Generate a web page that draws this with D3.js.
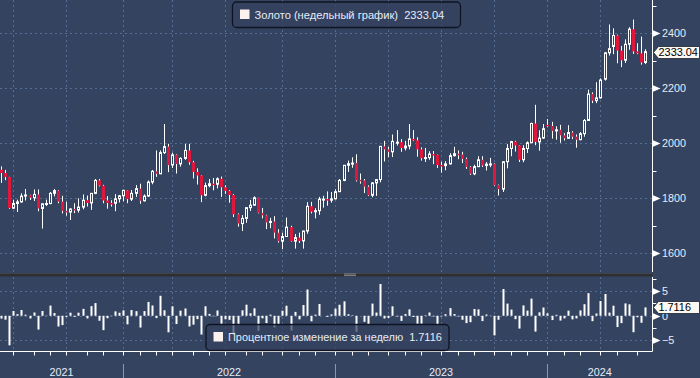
<!DOCTYPE html>
<html>
<head>
<meta charset="utf-8">
<script src="https://cdn.jsdelivr.net/npm/d3@7"></script>
<style>
  html, body { margin: 0; padding: 0; background: #344360; }
  svg { display: block; font-family: "Liberation Sans", Arial, sans-serif; }
</style>
</head>
<body>
<svg id="chart" width="700" height="378"></svg>
<script>
// weekly gold candles, one per week (week ending Friday)
const firstWeek = new Date(2021, 5, 4);
const lastWeek = new Date(2024, 5, 14);
const weeks = d3.timeFriday.range(firstWeek, d3.timeDay.offset(lastWeek, 1));
const prevClose = 1903; // close of the week before the first candle

const open = [
  1904,1892,1877,1764,1781,1787,1808,1812,1802,1814,1763,1780,1781,1818,1828,1788,1754,1750,1761,1757,1768,1793,1783,1818,1865,1846,1792,1783,1782,1798,1809,
  1829,1797,1818,1835,1791,1808,1859,1898,1889,1966,1988,1921,1958,1925,1945,1974,1931,1896,1883,1811,1846,1853,1851,1871,1840,1827,1812,1742,1708,1727,1766,1775,1802,1747,1738,1712,1716,1675,1644,1661,1695,1644,1657,1645,1681,1771,1751,1755,1797,1797,1793,1798,
  1824,1865,1920,1926,1928,1867,1865,1842,1811,1856,1868,1989,1978,1969,2002,2004,1983,1990,2016,2011,1978,1946,1948,1961,1958,1921,1919,1925,1955,1962,1959,1943,1914,1889,1915,1940,1919,1924,1925,1848,1833,1933,1981,2006,1992,1940,1981,2002,2072,2005,2019,2067,
  2063,2045,2049,2029,2018,2039,2024,2013,2035,2083,2179,2155,2165,2233,2329,2352,2392,2337,2302,2360,2415,2334,2327,2294
];
const high = [
  1916,1903,1878,1795,1795,1818,1834,1813,1832,1832,1780,1795,1823,1834,1830,1809,1787,1764,1782,1800,1814,1810,1818,1870,1870,1849,1808,1793,1815,1812,1831,
  1830,1830,1848,1853,1814,1865,1903,1974,1974,2070,1998,1966,1960,1949,1998,1998,1936,1909,1884,1857,1870,1874,1876,1879,1847,1830,1815,1745,1739,1767,1794,1807,1802,1765,1740,1729,1735,1688,1675,1730,1700,1670,1675,1682,1786,1787,1764,1805,1809,1825,1823,1833,
  1870,1921,1937,1949,1960,1890,1870,1847,1858,1870,1990,2009,1987,2032,2048,2015,2009,2070,2048,2022,1985,1983,1971,1972,1959,1933,1935,1964,1987,1974,1969,1948,1917,1922,1953,1953,1932,1947,1927,1850,1933,1997,2009,2009,1993,1993,2007,2075,2140,2047,2070,2088,
  2078,2062,2067,2037,2066,2044,2032,2041,2088,2195,2185,2222,2236,2331,2432,2418,2395,2354,2378,2422,2450,2364,2388,2342
];
const low = [
  1856,1866,1761,1761,1750,1784,1792,1794,1790,1753,1690,1772,1778,1807,1782,1745,1737,1721,1746,1748,1760,1770,1758,1815,1843,1782,1762,1770,1753,1785,1789,
  1782,1790,1805,1780,1788,1806,1851,1878,1888,1961,1895,1910,1890,1915,1940,1922,1872,1850,1786,1807,1840,1829,1836,1805,1816,1784,1732,1697,1681,1711,1754,1773,1745,1727,1688,1691,1654,1639,1615,1660,1642,1617,1638,1617,1671,1745,1727,1740,1766,1773,1784,1796,
  1823,1862,1896,1911,1861,1853,1819,1808,1804,1809,1858,1934,1949,1950,1992,1969,1974,1978,2008,1951,1937,1932,1940,1924,1910,1893,1902,1923,1952,1942,1928,1907,1885,1884,1914,1914,1901,1913,1846,1810,1823,1909,1953,1970,1932,1931,1965,2001,1993,1973,2016,2058,
  2017,2013,2002,2010,2017,2015,1984,2011,2024,2083,2146,2146,2163,2228,2319,2324,2291,2277,2292,2340,2325,2324,2286,2288
];
const close = [
  1892,1877,1764,1781,1787,1808,1812,1802,1814,1763,1780,1781,1818,1828,1788,1754,1750,1761,1757,1768,1793,1783,1818,1865,1846,1792,1783,1782,1798,1809,1829,
  1797,1818,1835,1791,1808,1859,1898,1889,1966,1988,1921,1958,1925,1945,1974,1931,1896,1883,1811,1846,1853,1851,1871,1840,1827,1812,1742,1708,1727,1766,1775,1802,1747,1738,1712,1716,1675,1644,1661,1695,1644,1657,1645,1681,1771,1751,1755,1797,1797,1793,1798,1824,
  1865,1920,1926,1928,1865,1865,1842,1811,1856,1868,1989,1978,1969,2007,2004,1983,1990,2016,2011,1978,1946,1948,1961,1958,1921,1919,1925,1955,1962,1959,1943,1914,1889,1915,1940,1919,1924,1925,1848,1833,1933,1981,2006,1992,1940,1981,2002,2072,2005,2019,2053,2063,
  2045,2049,2029,2018,2039,2024,2013,2035,2083,2179,2155,2165,2230,2329,2344,2392,2337,2302,2360,2415,2334,2327,2293.78,2333.04
];

const priceTicks = [1600, 1800, 2000, 2200, 2400];
const priceMinor = [1700, 1900, 2100, 2300, 2500];
const pctTicks = [-5, 0, 5];
const pctMinor = [-2.5, 2.5, 7.5];
const years = [2021, 2022, 2023, 2024];

const mainName = "Золото (недельный график)";
const subName = "Процентное изменение за неделю";

const bg = "#344360", gridCol = "#566d93", txt = "#e6ecf6", red = "#e0173d";

const data = weeks.map((d, i) => ({
  date: d, o: open[i], h: high[i], l: low[i], c: close[i],
  pct: (close[i] / (i ? close[i - 1] : prevClose) - 1) * 100
}));

const svg = d3.select("#chart");
const axisX = 652.5;

const x = d3.scaleTime().domain([firstWeek, lastWeek]).range([1, 645.3]);
const y = d3.scaleLinear().domain([1532, 2521]).range([272, 0]);
const y2 = d3.scaleLinear().domain([-7.18, 7.9]).range([351, 277]);

// scale a text's font so that it spans the given width
function fit(sel, w) {
  const fs = +sel.attr("font-size");
  const len = sel.node().getComputedTextLength();
  sel.attr("font-size", (fs * w / len).toFixed(2));
  return +sel.attr("font-size");
}

// month boundaries sit on the last bar before the month starts
const edge = m => Math.round(x(d3.timeFriday.floor(d3.timeDay.offset(m, -1))));
const months = d3.timeMonth.range(new Date(2021, 6, 1), new Date(2024, 6, 1));
const quarters = months.filter(m => m.getMonth() % 3 === 0);

svg.append("rect").attr("width", 700).attr("height", 378).attr("fill", bg);

// grid
const grid = svg.append("g").attr("stroke", gridCol).attr("stroke-dasharray", "2,3").attr("stroke-width", 1);
grid.selectAll(".hg").data(priceTicks).join("line")
  .attr("x1", 0).attr("x2", axisX)
  .attr("y1", d => Math.round(y(d)) + 0.5).attr("y2", d => Math.round(y(d)) + 0.5);
grid.selectAll(".hg2").data(pctTicks).join("line")
  .attr("x1", 0).attr("x2", axisX)
  .attr("y1", d => Math.round(y2(d)) + 0.5).attr("y2", d => Math.round(y2(d)) + 0.5);
quarters.forEach(m => {
  const xx = edge(m) + 0.5;
  grid.append("line").attr("x1", xx).attr("x2", xx).attr("y1", 0).attr("y2", 272);
  grid.append("line").attr("x1", xx).attr("x2", xx).attr("y1", 277).attr("y2", 351);
});

// candles
const cg = svg.append("g");
data.forEach(d => {
  const cx = Math.round(x(d.date)) + 0.5;
  cg.append("line").attr("x1", cx).attr("x2", cx)
    .attr("y1", y(d.h)).attr("y2", y(d.l)).attr("stroke", "#fff").attr("stroke-width", 1);
  const top = y(Math.max(d.o, d.c)), bot = y(Math.min(d.o, d.c));
  if (d.c >= d.o) {
    cg.append("rect").attr("x", cx - 1).attr("width", 2)
      .attr("y", top).attr("height", Math.max(bot - top, 1))
      .attr("fill", bg).attr("stroke", "#fff").attr("stroke-width", 1);
  } else {
    cg.append("rect").attr("x", cx - 1.5).attr("width", 3)
      .attr("y", top).attr("height", Math.max(bot - top, 1.5))
      .attr("fill", red);
  }
});

// weekly % change bars
svg.append("g").selectAll("rect").data(data).join("rect")
  .attr("x", d => Math.round(x(d.date)) - 0.5)
  .attr("width", 2)
  .attr("y", d => Math.min(y2(0), y2(d.pct)))
  .attr("height", d => Math.abs(y2(d.pct) - y2(0)))
  .attr("fill", "#fff");

// panel separator
svg.append("rect").attr("x", 0).attr("y", 273).attr("width", axisX).attr("height", 3.5).attr("fill", "#2e2f33");
svg.append("rect").attr("x", 0).attr("y", 273).attr("width", axisX).attr("height", 0.8).attr("fill", "#4a4c52");
[274, 275.6].forEach(yy => svg.append("line").attr("x1", 344).attr("x2", 356)
  .attr("y1", yy).attr("y2", yy).attr("stroke", "#9a9ca2").attr("stroke-width", 0.8));

// right axes
const ax = svg.append("g").attr("stroke", "#fff").attr("stroke-width", 1);
ax.append("line").attr("x1", axisX).attr("x2", axisX).attr("y1", 0).attr("y2", 272);
ax.append("line").attr("x1", axisX).attr("x2", axisX).attr("y1", 277).attr("y2", 351.5);

function minorTicks(vals, sc) {
  vals.forEach(v => {
    const yy = Math.round(sc(v)) + 0.5;
    ax.append("line").attr("x1", axisX).attr("x2", axisX + 4).attr("y1", yy).attr("y2", yy);
  });
}
minorTicks(priceMinor, y);
minorTicks(pctMinor, y2);

// label size taken from the width of "2400" on the price axis
const probe = svg.append("text").attr("font-size", 12).text("2400");
const axisFs = fit(probe, 24);
probe.remove();

function majorTicks(vals, sc, fmt) {
  vals.forEach(v => {
    const yy = Math.round(sc(v)) + 0.5;
    svg.append("path").attr("d", `M${axisX},${yy - 3.5}L${axisX + 8},${yy}L${axisX},${yy + 3.5}Z`).attr("fill", "#fff");
    svg.append("text").attr("x", 662).attr("y", yy).attr("dy", "0.36em")
      .attr("fill", txt).attr("font-size", axisFs).text(fmt(v));
  });
}
majorTicks(priceTicks, y, d => d);
majorTicks(pctTicks, y2, d => d < 0 ? "\u2212" + Math.abs(d) : d);

// last value flags
function flag(yy, label, w) {
  yy = Math.round(yy) + 0.5;
  svg.append("path")
    .attr("d", `M${axisX + 1},${yy}L${axisX + 6},${yy - 6}H699.5V${yy + 6}H${axisX + 6}Z`)
    .attr("fill", "#fdf8f2").attr("stroke", "#1b2233").attr("stroke-width", 0.8);
  const t = svg.append("text").attr("x", 658.5).attr("y", yy).attr("dy", "0.36em")
    .attr("fill", "#000").attr("font-size", 12).text(label);
  fit(t, w);
}
const last = data[data.length - 1];
flag(y(last.c), d3.format(".2f")(last.c), 39.5);
flag(y2(last.pct), d3.format(".4f")(last.pct), 32.5);

// bottom axis
svg.append("line").attr("x1", 0).attr("x2", axisX).attr("y1", 351.5).attr("y2", 351.5).attr("stroke", "#fff");
svg.append("g").selectAll("line").data(months).join("line")
  .attr("x1", m => edge(m) + 0.5).attr("x2", m => edge(m) + 0.5)
  .attr("y1", 351.5).attr("y2", 355.5).attr("stroke", "#fff");

const yearProbe = svg.append("text").attr("font-size", 12).text("2021");
const yearFs = fit(yearProbe, 24);
yearProbe.remove();

const yearEdge = yr => yr === 2021 ? 0 : edge(new Date(yr, 0, 1));
years.forEach(yr => {
  const a = Math.max(0, yearEdge(yr));
  const b = yr === 2024 ? axisX : yearEdge(yr + 1);
  if (yr > 2021) {
    svg.append("line").attr("x1", a + 0.5).attr("x2", a + 0.5).attr("y1", 364).attr("y2", 378)
      .attr("stroke", "#8b97ad");
  }
  svg.append("text").attr("x", (a + b) / 2).attr("y", 376).attr("text-anchor", "middle")
    .attr("fill", txt).attr("font-size", yearFs).text(yr);
});

// legends
function legend(x0, y0, w, h, label, textW) {
  const g = svg.append("g");
  g.append("rect").attr("x", x0 + 0.5).attr("y", y0 + 0.5).attr("width", w).attr("height", h).attr("rx", 4)
    .attr("fill", bg).attr("fill-opacity", 0.72).attr("stroke", "#0e1422").attr("stroke-width", 1.3);
  g.append("rect").attr("x", x0 + 8).attr("y", y0 + 8).attr("width", 9.5).attr("height", 9.5).attr("fill", "#fdf3ee");
  const t = g.append("text").attr("x", x0 + 22.5).attr("y", y0 + h / 2 + 0.5).attr("dy", "0.36em")
    .attr("fill", txt).attr("font-size", 11.5).attr("xml:space", "preserve").text(label);
  fit(t, textW);
}
legend(232, 1.5, 228, 25.5, mainName + "  " + d3.format(".2f")(last.c), 190);
legend(205.5, 324, 243, 26, subName + "  " + d3.format(".4f")(last.pct), 214);
</script>
</body>
</html>
